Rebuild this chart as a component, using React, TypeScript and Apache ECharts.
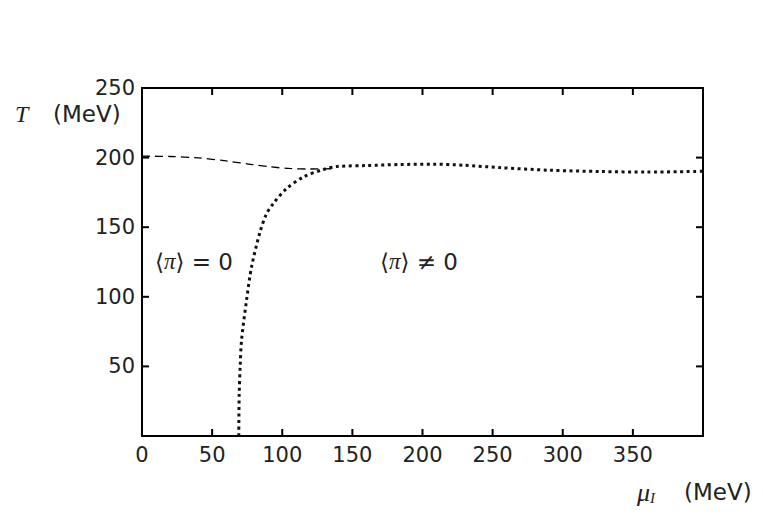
import React, { useEffect, useRef } from "react";
import * as echarts from "echarts";

const xTicks = [0, 50, 100, 150, 200, 250, 300, 350, 400];
const yTicks = [0, 50, 100, 150, 200, 250];

const dashedMu = [0, 20, 40, 60, 77, 92, 105, 120, 135];
const dashedT = [201, 200.8, 199.8, 197.6, 195.2, 193.3, 192.2, 191.8, 192];

const dottedMu = [69, 69.3, 70, 71, 74.6, 78.2, 84, 88.5, 93.6, 103, 115, 129, 139, 160, 184, 208, 230, 255, 291, 327, 360, 400];
const dottedT = [0, 30, 50, 69, 98, 122, 146, 159, 167, 177.7, 186, 191.4, 193.6, 194.3, 195, 195.3, 194.5, 192.8, 190.9, 190, 189.6, 190.2];

const FONT = "DejaVu Sans";
const xMin = xTicks[0], xMax = xTicks[xTicks.length - 1];
const yMin = yTicks[0], yMax = yTicks[yTicks.length - 1];
const xInner = xTicks.slice(1, -1);
const yInner = yTicks.slice(1, -1);

function axisLine() {
  return { show: true, onZero: false, lineStyle: { color: "#000", width: 2 } };
}

export default function App() {
  const ref = useRef<HTMLDivElement>(null);
  useEffect(() => {
    document.body.style.margin = "0";
    const chart = echarts.init(ref.current!, null, { renderer: "svg" });
    const tickSeries = (data: number[][], size: number[], offset: number[]) => ({
      type: "scatter", xAxisIndex: 0, yAxisIndex: 0, clip: false, silent: true,
      symbol: "rect", symbolSize: size, symbolOffset: offset,
      itemStyle: { color: "#000", opacity: 1 }, data, z: 10,
    });
    chart.setOption({
      animation: false,
      backgroundColor: "#fff",
      grid: { left: 142, right: 60, top: 88, bottom: 82, containLabel: false },
      xAxis: [
        {
          type: "value", position: "bottom", min: xMin, max: xMax, interval: 50,
          axisLine: axisLine(), axisTick: { show: false }, splitLine: { show: false },
          axisLabel: {
            margin: 8, color: "#222", fontFamily: FONT, fontSize: 21,
            formatter: (v: number) => (v === xMax ? "" : String(v)),
          },
        },
        {
          type: "value", position: "top", min: xMin, max: xMax, interval: 50,
          axisLine: axisLine(), axisTick: { show: false }, splitLine: { show: false }, axisLabel: { show: false },
        },
      ],
      yAxis: [
        {
          type: "value", position: "left", min: yMin, max: yMax, interval: 50,
          axisLine: axisLine(), axisTick: { show: false }, splitLine: { show: false },
          axisLabel: {
            margin: 7, color: "#222", fontFamily: FONT, fontSize: 21,
            formatter: (v: number) => (v === yMin ? "" : String(v)),
          },
        },
        {
          type: "value", position: "right", min: yMin, max: yMax, interval: 50,
          axisLine: axisLine(), axisTick: { show: false }, splitLine: { show: false }, axisLabel: { show: false },
        },
      ],
      series: [
        {
          type: "line", xAxisIndex: 0, yAxisIndex: 0, symbol: "none", smooth: 0.3,
          data: dashedMu.map((m, i) => [m, dashedT[i]]),
          lineStyle: { color: "#000", width: 1.3, type: [8, 5] },
        },
        {
          type: "line", xAxisIndex: 0, yAxisIndex: 0, symbol: "none", smooth: 0.3,
          data: dottedMu.map((m, i) => [m, dottedT[i]]),
          lineStyle: { color: "#111", width: 3, type: [3, 3.5] },
        },
        tickSeries(xInner.map((v) => [v, yMin]), [2, 7], [0, -3.5]),
        tickSeries(xInner.map((v) => [v, yMax]), [2, 7], [0, 3.5]),
        tickSeries(yInner.map((v) => [xMin, v]), [7, 2], [3.5, 0]),
        tickSeries(yInner.map((v) => [xMax, v]), [7, 2], [-3.5, 0]),
      ],
      graphic: [
        {
          type: "text", left: 15, top: 102,
          style: { text: "T", font: "italic 24px 'Liberation Serif'", fill: "#222" },
        },
        {
          type: "text", left: 53, top: 102,
          style: { text: "(MeV)", font: `23px '${FONT}'`, fill: "#222" },
        },
        {
          type: "text", left: 637, top: 479,
          style: {
            text: "{m|μ}{s|I}",
            rich: {
              m: { font: "italic 26px 'Liberation Serif'", fill: "#222" },
              s: { font: "italic 15px 'Liberation Serif'", fill: "#222", verticalAlign: "bottom", padding: [10, 0, 0, 0] },
            },
          },
        },
        {
          type: "text", left: 684, top: 480,
          style: { text: "(MeV)", font: `23px '${FONT}'`, fill: "#222" },
        },
        {
          type: "text", left: 155, top: 250,
          style: {
            text: "{b|⟨}{p|π}{b|⟩}{t| = 0}",
            rich: {
              b: { font: "23px 'DejaVu Serif'", fill: "#222" },
              p: { font: "italic 23px 'Liberation Serif'", fill: "#222" },
              t: { font: `23px '${FONT}'`, fill: "#222" },
            },
          },
        },
        {
          type: "text", left: 380, top: 250,
          style: {
            text: "{b|⟨}{p|π}{b|⟩}{t| ≠ 0}",
            rich: {
              b: { font: "23px 'DejaVu Serif'", fill: "#222" },
              p: { font: "italic 23px 'Liberation Serif'", fill: "#222" },
              t: { font: `23px '${FONT}'`, fill: "#222" },
            },
          },
        },
      ],
    });
    return () => chart.dispose();
  }, []);
  return <div ref={ref} style={{ width: 763, height: 518 }} />;
}
